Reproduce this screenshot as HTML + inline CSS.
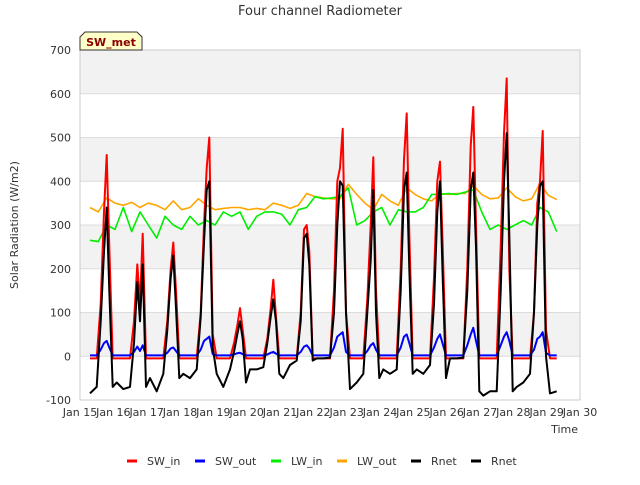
<!DOCTYPE html>
<html><head><meta charset="utf-8"><style>
body{margin:0;background:#fff;font-family:"Liberation Sans","DejaVu Sans",sans-serif}
svg text{font-family:"DejaVu Sans","Liberation Sans",sans-serif}
</style></head><body>
<svg id="chart" width="640" height="480" viewBox="0 0 640 480">
<text x="320" y="15" text-anchor="middle" font-size="13" fill="#333">Four channel Radiometer</text>
<g id="bands"></g>
<g id="grid"></g>
<rect x="80" y="50" width="500" height="350" fill="none" stroke="#ccc"/>
<g id="series"></g>
<g id="yticks" font-size="11" fill="#333"></g>
<g id="xticks" font-size="11" fill="#333"></g>
<text transform="translate(18,225) rotate(-90)" text-anchor="middle" font-size="11" fill="#333">Solar Radiation (W/m2)</text>
<text x="578" y="433" text-anchor="end" font-size="11" fill="#333">Time</text>
<g>
<polygon points="80,50 80,37 85,32 137,32 142,37 142,50" fill="#ffffc8" stroke="#333" stroke-width="1"/>
<text x="111" y="46" text-anchor="middle" font-size="11" font-weight="bold" fill="#8b0000">SW_met</text>
</g>
<g id="legend" font-size="11" fill="#333"></g>
</svg>
<script>
const yTicks=[-100,0,100,200,300,400,500,600,700];
const xTickLabels=["Jan 15","Jan 16","Jan 17","Jan 18","Jan 19","Jan 20","Jan 21","Jan 22","Jan 23","Jan 24","Jan 25","Jan 26","Jan 27","Jan 28","Jan 29","Jan 30"];
const swT=[15.3,15.5,15.62,15.72,15.8,15.88,15.98,
16.1,16.3,16.5,16.62,16.72,16.8,16.88,16.98,
17.1,17.3,17.5,17.62,17.72,17.8,17.88,17.98,
18.1,18.3,18.5,18.62,18.72,18.8,18.88,18.98,
19.1,19.3,19.5,19.62,19.72,19.8,19.88,19.98,
20.1,20.3,20.5,20.62,20.72,20.8,20.88,20.98,
21.1,21.3,21.5,21.62,21.72,21.8,21.88,21.98,
22.1,22.3,22.5,22.62,22.72,22.8,22.88,22.98,
23.1,23.3,23.5,23.62,23.72,23.8,23.88,23.98,
24.1,24.3,24.5,24.62,24.72,24.8,24.88,24.98,
25.1,25.3,25.5,25.62,25.72,25.8,25.88,25.98,
26.1,26.3,26.5,26.62,26.72,26.8,26.88,26.98,
27.1,27.3,27.5,27.62,27.72,27.8,27.88,27.98,
28.1,28.3,28.5,28.62,28.72,28.8,28.88,28.98,
29.1,29.3];
const swIn=[-5,-5,120,330,460,250,-5,
-5,-5,-5,80,210,120,280,-5,
-5,-5,-5,80,200,260,150,-5,
-5,-5,-5,100,300,430,500,50,
-5,-5,-5,30,70,110,60,-5,
-5,-5,-5,40,110,175,90,-5,
-5,-5,-5,100,290,300,240,-5,
-5,-5,-5,150,400,430,520,100,
-5,-5,-5,130,300,455,150,-5,
-5,-5,-5,200,450,555,280,-5,
-5,-5,-5,180,400,445,250,-5,
-5,-5,-5,200,480,570,300,-5,
-5,-5,-5,250,510,635,200,-5,
-5,-5,-5,100,350,400,515,60,
-5,-5];
const swOut=[2,2,15,30,35,20,2,
2,2,2,10,22,12,25,2,
2,2,2,8,18,20,12,2,
2,2,2,15,35,40,45,5,
2,2,2,4,7,8,5,2,
2,2,2,4,8,10,6,2,
2,2,2,10,22,25,18,2,
2,2,2,20,45,50,55,10,
2,2,2,12,25,30,15,2,
2,2,2,20,45,50,30,2,
2,2,2,20,40,50,28,2,
2,2,2,25,50,65,35,2,
2,2,2,25,45,55,35,2,
2,2,2,15,40,45,55,8,
2,2];
const rnet=[-85,-70,80,240,340,150,-70,
-60,-75,-70,30,170,80,210,-70,
-50,-80,-40,60,180,230,110,-50,
-40,-50,-30,90,260,380,400,20,
-40,-70,-30,10,50,80,40,-60,
-30,-30,-25,30,90,130,80,-40,
-50,-20,-10,80,270,280,210,-10,
-5,-5,-3,100,300,400,390,100,
-75,-60,-40,100,220,380,100,-50,
-30,-40,-30,150,380,420,200,-40,
-30,-40,-20,120,330,400,180,-50,
-5,-5,-3,150,380,420,250,-80,
-90,-80,-80,150,400,510,280,-80,
-70,-60,-40,100,300,390,400,0,
-85,-80];
const lwStart=15.3, lwStep=0.25;
const lwIn=[265,262,300,290,340,285,330,300,270,320,300,290,320,300,310,300,330,320,330,290,320,330,330,325,300,335,340,365,360,362,365,385,300,310,330,340,300,335,330,330,340,370,370,372,370,375,380,330,290,300,290,300,310,300,340,330,285];
const lwOut=[340,330,362,350,345,352,340,350,345,335,355,335,340,360,345,335,338,340,340,335,338,335,350,345,338,345,372,365,362,360,360,393,370,350,335,370,355,345,385,370,360,355,372,370,372,372,390,370,360,362,385,365,355,360,395,368,358];

const X=d=>80+(d-15)*500/15;
const Y=v=>400-(v+100)*350/800;
const NS="http://www.w3.org/2000/svg";
function mk(tag,parent){const e=document.createElementNS(NS,tag);document.getElementById(parent).appendChild(e);return e;}

for(let i=0;i<yTicks.length-1;i++){
  if((yTicks[i]/100)%2===0){
    const r=mk('rect','bands');
    
    
    r.setAttribute('x',80);r.setAttribute('width',500);
    r.setAttribute('y',Y(yTicks[i+1]));r.setAttribute('height',Y(yTicks[i])-Y(yTicks[i+1]));
    r.setAttribute('fill','#f2f2f2');
  }
}
yTicks.forEach(v=>{
  const l=mk('line','grid');
  
  
  l.setAttribute('x1',80);l.setAttribute('x2',580);l.setAttribute('y1',Y(v));l.setAttribute('y2',Y(v));
  l.setAttribute('stroke','#dcdcdc');
  const t=mk('text','yticks');
  
  
  t.setAttribute('x',71);t.setAttribute('y',Y(v)+4);t.setAttribute('text-anchor','end');
  t.textContent=v;
});
xTickLabels.forEach((s,i)=>{
  const t=mk('text','xticks');
  
  
  t.setAttribute('x',X(15+i));t.setAttribute('y',416);t.setAttribute('text-anchor','middle');
  t.textContent=s;
});
function line(ts,vs,color,w,name){
  const n=Math.min(ts.length,vs.length);
  let d='';for(let i=0;i<n;i++)d+=(i?'L':'M')+X(ts[i]).toFixed(1)+','+Y(vs[i]).toFixed(1);
  const p=mk('path','series');
  
  
  p.setAttribute('d',d);p.setAttribute('fill','none');p.setAttribute('stroke',color);
  p.setAttribute('stroke-width',w);p.setAttribute('stroke-linejoin','round');
}
const lwT=lwIn.map((_,i)=>lwStart+i*lwStep);
line(lwT,lwOut,'#ffa500',1.6,'lw-out-line');
line(lwT,lwIn,'#00ee00',1.6,'lw-in-line');
line(swT,swIn,'#ff0000',2,'sw-in-line');
line(swT,swOut,'#0000ff',2,'sw-out-line');
line(swT,rnet,'#000000',2,'rnet-line');

const legendNames=["SW_in","SW_out","LW_in","LW_out","Rnet","Rnet"];
const legendColors=["#ff0000","#0000ff","#00ee00","#ffa500","#000000","#000000"];
const legendX=[127,195,271,337,411,471];
legendNames.forEach((s,i)=>{
  const l=mk('line','legend');
  
  
  l.setAttribute('x1',legendX[i]);l.setAttribute('x2',legendX[i]+10);l.setAttribute('y1',461);l.setAttribute('y2',461);
  l.setAttribute('stroke',legendColors[i]);l.setAttribute('stroke-width',3);
  const t=mk('text','legend');
  
  
  t.setAttribute('x',legendX[i]+20);t.setAttribute('y',465);
  t.textContent=s;
});
</script>
</body></html>
